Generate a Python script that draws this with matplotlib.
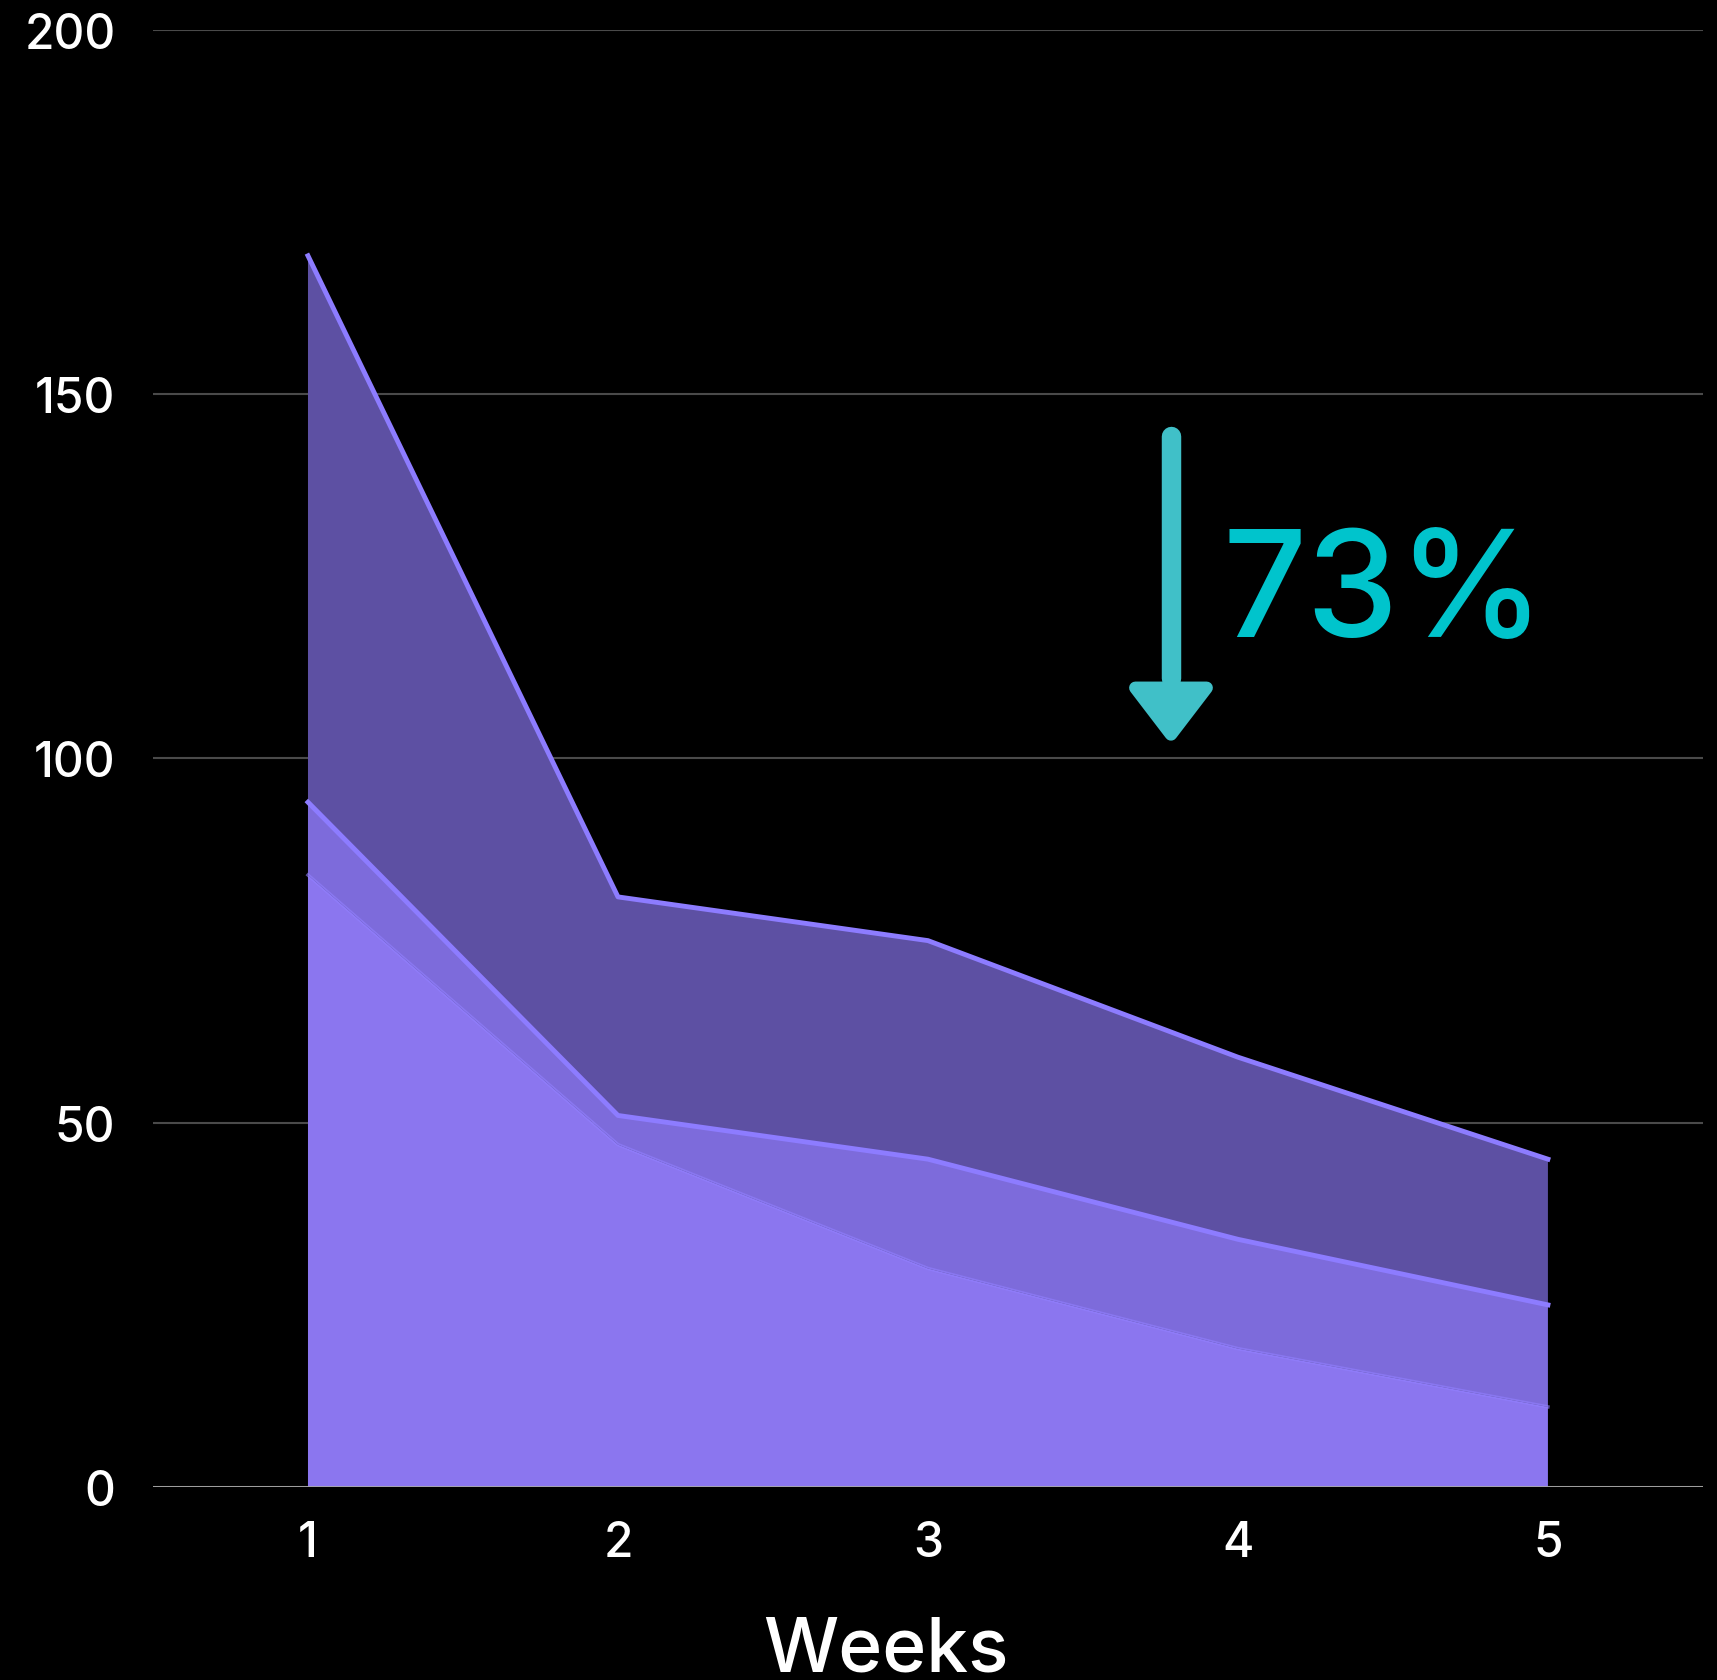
import matplotlib
matplotlib.use("Agg")
import matplotlib.pyplot as plt
import numpy as np
from matplotlib.patches import Polygon

weeks = [1, 2, 3, 4, 5]
bottom_series = [84, 47, 30, 19, 11]
middle_series = [10, 4, 15, 15, 14]
top_series = [75, 30, 30, 25, 20]
y_ticks = [0, 50, 100, 150, 200]
x_label = "Weeks"
callout = "73%"

FONT = ["Inter", "DejaVu Sans"]
plt.rcParams['font.family'] = FONT

fig = plt.figure(figsize=(17.17, 16.81), dpi=100, facecolor="black")
ax = fig.add_axes([0.0891, 0.1148, 0.9027, 0.8668])
ax.set_facecolor("black")

fills = ["#8b76ef", "#7d6bdb", "#5d50a3"]
line_col = "#8d7cff"

s1 = np.array(bottom_series)
s2 = s1 + np.array(middle_series)
s3 = s2 + np.array(top_series)

ax.stackplot(weeks, bottom_series, middle_series, top_series, colors=fills,
             linewidth=0, zorder=2)
ax.plot(weeks, s1, color="#9280ff", lw=2.5, zorder=3, alpha=0.6)
ax.plot(weeks, s2, color=line_col, lw=3.5, zorder=3)
ax.plot(weeks, s3, color=line_col, lw=3.5, zorder=3)

ax.set_xlim(0.5, 5.5)
ax.set_ylim(0, 200)
ax.set_yticks(y_ticks)
ax.set_xticks(weeks)
ax.yaxis.grid(True, color="#4a4a4a", lw=1.5, zorder=1)
ax.set_axisbelow(True)
for s in ax.spines.values():
    s.set_visible(False)
ax.axhline(0, color="#a8a8a8", lw=2, zorder=4)
ax.tick_params(axis="both", length=0, colors="white", labelsize=34.5)
ax.tick_params(axis="y", pad=27)
ax.tick_params(axis="x", pad=24)
for lab in ax.get_xticklabels() + ax.get_yticklabels():
    lab.set_fontweight("medium")

fig.text(0.516, 0.0054, x_label, color="white", fontsize=54, ha="center",
         va="baseline", fontweight="medium")

# arrow annotation
teal = "#40c0c8"
ax.plot([3.784, 3.784], [144.2, 111], color=teal, lw=14, solid_capstyle="round", zorder=5)
head = Polygon([[3.784 - 0.115, 109.7], [3.784 + 0.115, 109.7], [3.784, 103.3]],
               closed=True, facecolor=teal, edgecolor=teal, lw=9, joinstyle="round", zorder=5)
ax.add_patch(head)
ax.text(3.95, 116.8, callout, color="#00c4cc", fontsize=106, ha="left", va="baseline",
        fontweight="medium", zorder=6)

fig.savefig("out.png", dpi=100, facecolor="black")
